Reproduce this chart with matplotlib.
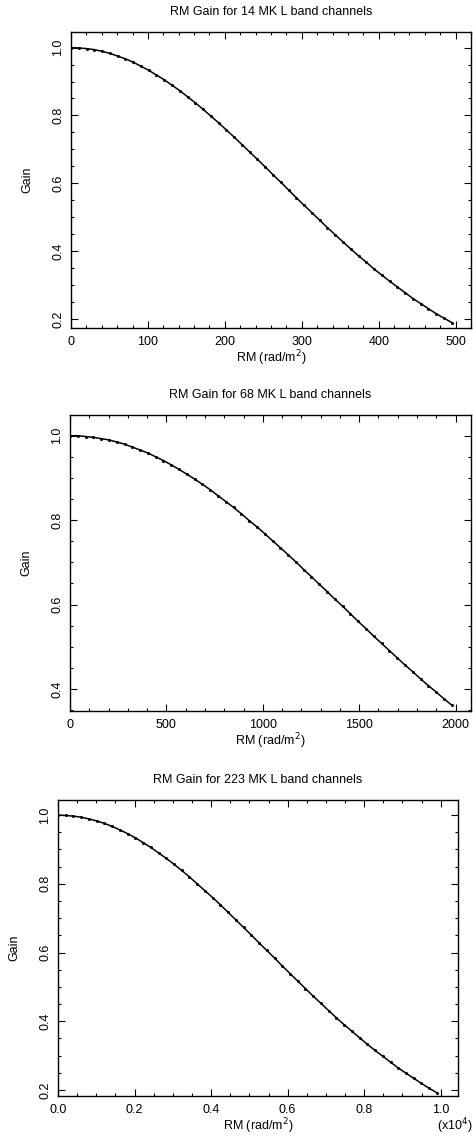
import numpy as np
import matplotlib
matplotlib.use('Agg')
import matplotlib.pyplot as plt
from matplotlib.ticker import MultipleLocator, FormatStrFormatter

plt.rcParams['font.family'] = ['Liberation Sans', 'DejaVu Sans']
plt.rcParams['font.size'] = 9

# 50 samples along each curve
titles = ['RM Gain for 14 MK L band channels',
          'RM Gain for 68 MK L band channels',
          'RM Gain for 223 MK L band channels']

rm_14 = np.linspace(0, 495, 50)
gain_14 = [1.000, 0.999, 0.997, 0.994, 0.989, 0.983, 0.975, 0.967, 0.957, 0.945,
           0.933, 0.919, 0.905, 0.889, 0.873, 0.855, 0.837, 0.818, 0.798, 0.778,
           0.757, 0.736, 0.714, 0.692, 0.670, 0.648, 0.625, 0.603, 0.580, 0.557,
           0.535, 0.513, 0.491, 0.469, 0.448, 0.427, 0.406, 0.386, 0.367, 0.347,
           0.329, 0.311, 0.294, 0.277, 0.260, 0.245, 0.230, 0.215, 0.202, 0.189]

rm_68 = np.linspace(0, 1980, 50)
gain_68 = [1.000, 1.000, 0.998, 0.996, 0.993, 0.990, 0.985, 0.980, 0.973, 0.966,
           0.959, 0.950, 0.941, 0.931, 0.920, 0.909, 0.897, 0.885, 0.872, 0.858,
           0.844, 0.830, 0.815, 0.799, 0.784, 0.768, 0.751, 0.735, 0.718, 0.701,
           0.683, 0.666, 0.648, 0.631, 0.613, 0.596, 0.578, 0.560, 0.543, 0.525,
           0.508, 0.491, 0.474, 0.457, 0.441, 0.424, 0.408, 0.393, 0.377, 0.362]

rm_223 = np.linspace(0, 9900, 50)
gain_223 = [1.000, 0.999, 0.997, 0.994, 0.989, 0.983, 0.976, 0.967, 0.957, 0.946,
            0.934, 0.920, 0.906, 0.890, 0.874, 0.857, 0.839, 0.820, 0.800, 0.780,
            0.760, 0.739, 0.717, 0.695, 0.673, 0.651, 0.628, 0.606, 0.584, 0.561,
            0.539, 0.517, 0.495, 0.473, 0.452, 0.431, 0.410, 0.390, 0.371, 0.352,
            0.333, 0.315, 0.298, 0.281, 0.264, 0.249, 0.234, 0.219, 0.205, 0.192]

fig = plt.figure(figsize=(4.73, 11.36), dpi=100)

# [left, bottom, width, height], xlim, ylim, x major/minor, xscale
panels = [
    ([71/473, 1-328/1136, 400/473, 296/1136], (0, 520), (0.173, 1.046), 100, 20, 1, '%d'),
    ([70/473, 1-711/1136, 401/473, 296/1136], (0, 2080), (0.348, 1.049), 500, 100, 1, '%d'),
    ([58/473, 1-1096/1136, 400/473, 296/1136], (0, 1.045), (0.1825, 1.044), 0.2, 0.05, 1e4, '%.1f'),
]
data = [(rm_14, gain_14), (rm_68, gain_68), (rm_223, gain_223)]

for i in range(3):
    pos, xl, yl, xmaj, xmin, scale, fmt = panels[i]
    x, y = data[i]
    ax = fig.add_axes(pos)
    ax.plot(np.asarray(x) / scale, y, color='k', lw=1.1, marker='o', ms=1.2, mec='k', mfc='k')
    ax.set_xlim(xl)
    ax.set_ylim(yl)
    ax.xaxis.set_major_locator(MultipleLocator(xmaj))
    ax.xaxis.set_minor_locator(MultipleLocator(xmin))
    ax.xaxis.set_major_formatter(FormatStrFormatter(fmt))
    ax.yaxis.set_major_locator(MultipleLocator(0.2))
    ax.yaxis.set_minor_locator(MultipleLocator(0.05))
    ax.yaxis.set_major_formatter(FormatStrFormatter('%.1f'))
    ax.tick_params(which='both', direction='in', top=True, right=True, width=0.8)
    ax.tick_params(which='major', length=5)
    ax.tick_params(which='minor', length=2.5)
    ax.tick_params(axis='x', pad=6)
    ax.tick_params(axis='y', pad=5, labelrotation=90)
    for lbl in ax.get_yticklabels():
        lbl.set_va('center')
    for s in ax.spines.values():
        s.set_linewidth(1.0)
    ax.set_title(titles[i], fontsize=9, pad=12)
    ax.set_xlabel('RM (rad/m$^2$)', labelpad=0)
    ax.set_ylabel('Gain')
    ax.yaxis.set_label_coords(-0.095, 0.5)
    if scale != 1:
        ax.annotate('(x10$^4$)', xy=(0.993, 0), xycoords='axes fraction',
                    xytext=(0, -22), textcoords='offset points',
                    ha='center', va='center')

plt.savefig('out.png', dpi=100)
